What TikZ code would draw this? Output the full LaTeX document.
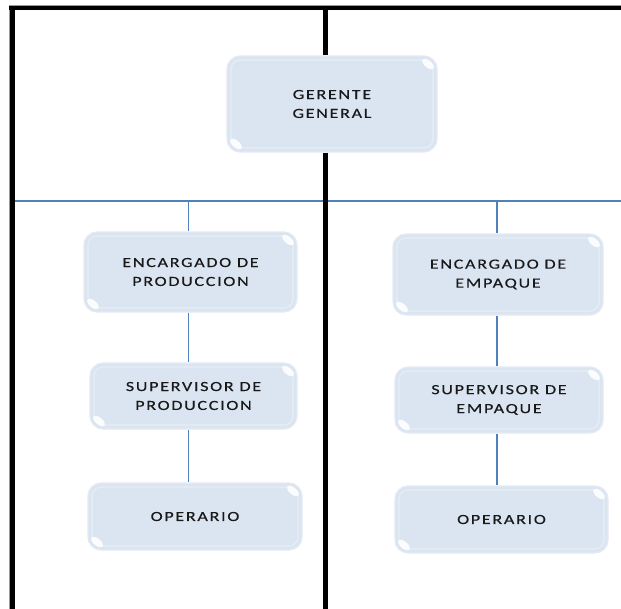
\documentclass[tikz,border=0pt]{standalone}
\usepackage{fontspec}
\newfontfamily\boxfont[FakeStretch=1.3,LetterSpace=12,FakeBold=0.4]{Carlito}
\definecolor{boxfill}{HTML}{DBE5F1}
\definecolor{boxedge}{HTML}{E3EAF4}
\definecolor{linkblue}{HTML}{4F81BD}
\definecolor{framegray}{HTML}{9A9A9A}
\tikzset{
  orgbox/.style={rounded corners=13bp, fill=boxfill, draw=boxedge, line width=1.2bp,
    align=center, inner sep=0pt, text=black!90,
    font=\boxfont\fontsize{14}{19}\selectfont,
    path picture={
      \draw[white, opacity=0.3, line width=1.2bp, rounded corners=9bp]
        ([shift={(4bp,-4bp)}]path picture bounding box.north west) rectangle
        ([shift={(-4bp,4bp)}]path picture bounding box.south east);
      \fill[white, opacity=0.9]
        ([shift={(-9bp,-8bp)}]path picture bounding box.north east)
        ellipse [x radius=7bp, y radius=3.5bp, rotate=-40];
      \fill[white, opacity=0.9]
        ([shift={(9bp,8bp)}]path picture bounding box.south west)
        ellipse [x radius=7bp, y radius=3.5bp, rotate=-40];
    }},
  framebar/.style={line width=4.5bp, black},
  link/.style={linkblue, line width=1.3bp}
}
\begin{document}
\begin{tikzpicture}[x=1bp, y=-1bp]
\useasboundingbox (0,0) rectangle (621,609);
% nodes
\node[orgbox, minimum width=210bp, minimum height=96bp] (g) at (332,104) {GERENTE\\GENERAL};
\node[orgbox, minimum width=213bp, minimum height=80bp] (ep) at (190.5,272) {ENCARGADO DE\\PRODUCCION};
\node[orgbox, minimum width=207bp, minimum height=66bp] (sp) at (193.5,396) {SUPERVISOR DE\\PRODUCCION};
\node[orgbox, minimum width=214bp, minimum height=67bp] (op) at (195,516.5) {OPERARIO};
\node[orgbox, minimum width=210bp, minimum height=81bp] (ee) at (498,274.5) {ENCARGADO DE\\EMPAQUE};
\node[orgbox, minimum width=208bp, minimum height=66bp] (se) at (499,400) {SUPERVISOR DE\\EMPAQUE};
\node[orgbox, minimum width=213bp, minimum height=67bp] (oe) at (501.5,519.5) {OPERARIO};
% frame coordinates
\coordinate (tl) at (9,8);
\coordinate (tr) at (621,8);
\coordinate (bl) at (12.5,609);
\coordinate (mt) at (325.5,8);
\coordinate (mb) at (325.5,609);
\coordinate (hl) at (14,201);
\coordinate (hr) at (621,201);
\coordinate (lc) at (188.5,201);
\coordinate (rc) at (497,201);
% thin gray outline
\draw[framegray, line width=0.8bp] (9.5,609) -- (9.5,5.5) -- (621,5.5);
% blue links
\draw[link] (hl) -- (hr);
\draw[link] (lc) -- (lc |- ep.north);
\draw[link] (lc |- ep.south) -- (lc |- sp.north);
\draw[link] (lc |- sp.south) -- (lc |- op.north);
\draw[link] (rc) -- (rc |- ee.north);
\draw[link] (rc |- ee.south) -- (rc |- se.north);
\draw[link] (rc |- se.south) -- (rc |- oe.north);
% black frame
\draw[framebar] (tl) -- (tr);
\draw[framebar] (12.5,6) -- (bl);
\draw[framebar] (mt) -- (mt |- g.north);
\draw[framebar] (mb |- g.south) -- (mb);
\end{tikzpicture}
\end{document}
